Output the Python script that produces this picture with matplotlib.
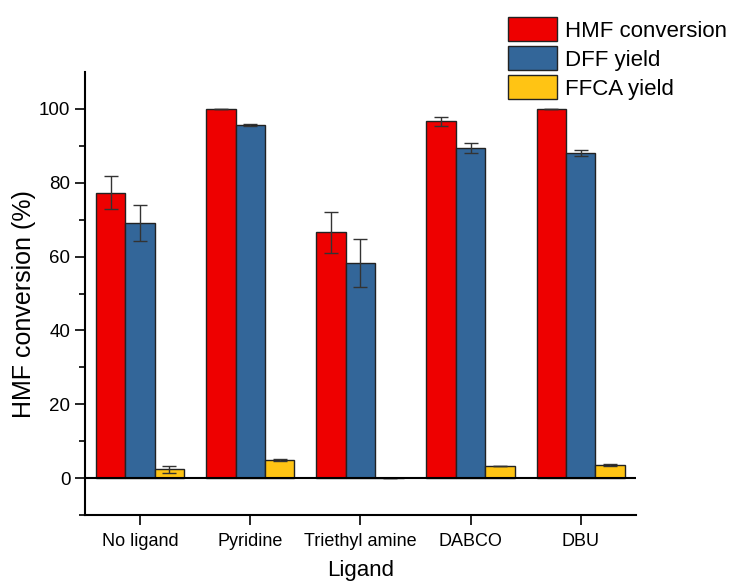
import matplotlib.pyplot as plt
import numpy as np
from matplotlib.ticker import FixedLocator

plt.rcParams["font.family"] = ["Liberation Sans", "DejaVu Sans"]

ligands = ["No ligand", "Pyridine", "Triethyl amine", "DABCO", "DBU"]

hmf_conv = [77.3, 100.0, 66.6, 96.7, 100.0]
hmf_err = [4.5, 0.0, 5.6, 1.2, 0.0]

dff_yield = [69.1, 95.6, 58.3, 89.5, 88.1]
dff_err = [5.0, 0.2, 6.5, 1.4, 0.9]

ffca_yield = [2.45, 4.9, 0.0, 3.3, 3.6]
ffca_err = [0.95, 0.2, 0.0, 0.1, 0.2]

series = [
    ("HMF conversion", hmf_conv, hmf_err, "#EE0000"),
    ("DFF yield", dff_yield, dff_err, "#336699"),
    ("FFCA yield", ffca_yield, ffca_err, "#FFC414"),
]

fig = plt.figure(figsize=(7.35, 5.83), dpi=100)
ax = fig.add_axes([0.1156, 0.1166, 0.7494, 0.7599])

x = np.arange(len(ligands))
width = 0.267

for i, (name, vals, errs, color) in enumerate(series):
    ax.bar(
        x + (i - 1) * width,
        vals,
        width,
        color=color,
        edgecolor="#222222",
        linewidth=1.0,
        label=name,
        zorder=2,
    )
    ax.errorbar(
        x + (i - 1) * width,
        vals,
        yerr=errs,
        fmt="none",
        ecolor="#333333",
        elinewidth=1.0,
        capsize=5,
        capthick=1.0,
        zorder=3,
    )

ax.axhline(0, color="black", linewidth=1.5, zorder=4)

ax.set_xlim(-0.5, 4.5)
ax.set_ylim(-10, 110)
ax.set_xticks(x)
ax.set_xticklabels(ligands, fontsize=13)
ax.set_yticks([0, 20, 40, 60, 80, 100])
ax.yaxis.set_minor_locator(FixedLocator([-10, 10, 30, 50, 70, 90]))
ax.tick_params(axis="y", labelsize=13.5, length=7, width=1.2, direction="out")
ax.tick_params(axis="y", which="minor", length=4, width=1.2)
ax.tick_params(axis="x", length=7, width=1.2, direction="out", pad=6)

for side in ["top", "right"]:
    ax.spines[side].set_visible(False)
for side in ["left", "bottom"]:
    ax.spines[side].set_linewidth(1.5)

ax.set_ylabel("HMF conversion (%)", fontsize=18)
ax.yaxis.set_label_coords(-0.089, 0.476)
ax.set_xlabel("Ligand", fontsize=16, labelpad=7)

fig.legend(
    loc="upper left",
    bbox_to_anchor=(508 / 735, 1 - 17 / 583),
    frameon=False,
    fontsize=16,
    handlelength=2.22,
    handleheight=1.3,
    handletextpad=0.36,
    labelspacing=0.2,
    borderpad=0,
    borderaxespad=0,
)

fig.savefig("out.png", dpi=100)
